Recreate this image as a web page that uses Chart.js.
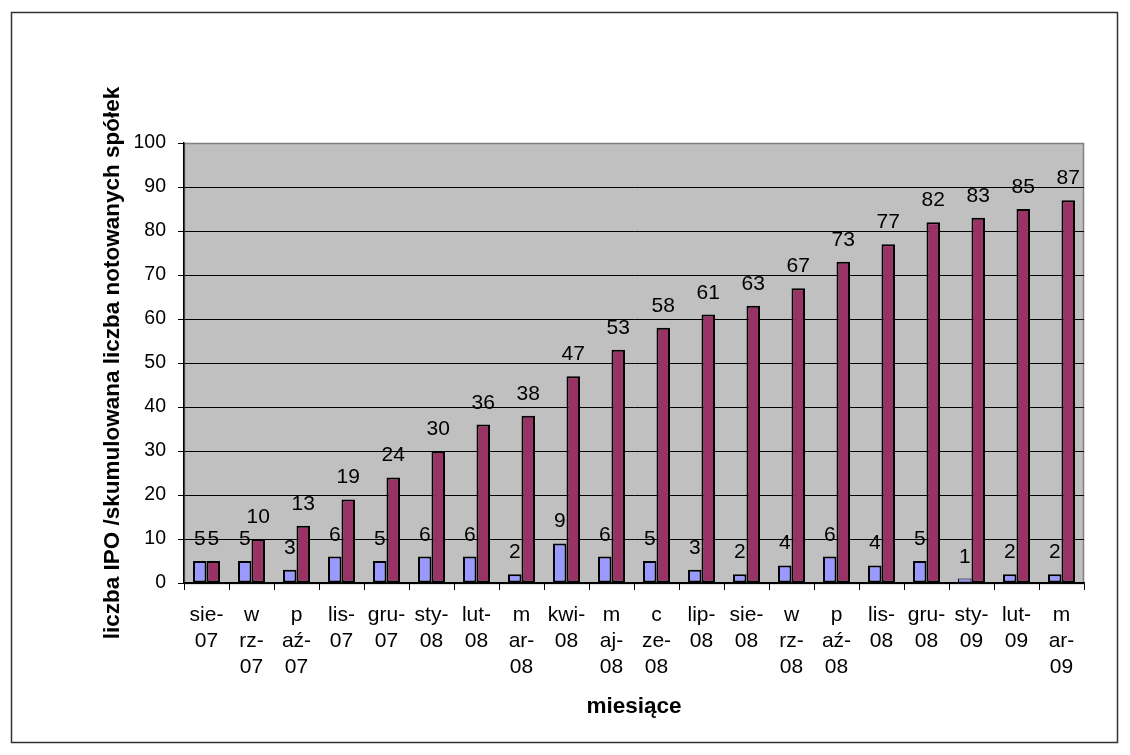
<!DOCTYPE html>
<html>
<head>
<meta charset="utf-8">
<script src="https://cdn.jsdelivr.net/npm/chart.js@4/dist/chart.umd.min.js"></script>
<style>
  html, body { margin: 0; padding: 0; background: #fff; }
  #wykres { display: block; }
</style>
</head>
<body>
<canvas id="wykres" width="1130" height="755"></canvas>
<script>
const miesiace = [
    ['sie-', '07'], ['w', 'rz-', '07'], ['p', 'aź-', '07'], ['lis-', '07'], ['gru-', '07'],
    ['sty-', '08'], ['lut-', '08'], ['m', 'ar-', '08'], ['kwi-', '08'], ['m', 'aj-', '08'],
    ['c', 'ze-', '08'], ['lip-', '08'], ['sie-', '08'], ['w', 'rz-', '08'], ['p', 'aź-', '08'],
    ['lis-', '08'], ['gru-', '08'], ['sty-', '09'], ['lut-', '09'], ['m', 'ar-', '09']
];
const liczbaIPO = [5, 5, 3, 6, 5, 6, 6, 2, 9, 6, 5, 3, 2, 4, 6, 4, 5, 1, 2, 2];
const notowane = [5, 10, 13, 19, 24, 30, 36, 38, 47, 53, 58, 61, 63, 67, 73, 77, 82, 83, 85, 87];
const osY = { min: 0, max: 100, krok: 10 };

Chart.defaults.font.family = '"Liberation Sans", Arial, sans-serif';
Chart.defaults.color = '#000';

// tlo obszaru wykresu + ramka calego wykresu
const tlo = {
    id: 'tlo',
    beforeDraw(chart) {
        const { ctx, chartArea: a } = chart;
        ctx.save();
        ctx.lineWidth = 1.5;
        ctx.strokeStyle = '#333';
        ctx.strokeRect(11.5, 12.5, 1106, 730);
        ctx.fillStyle = '#C0C0C0';
        ctx.fillRect(a.left, a.top, a.right - a.left, a.bottom - a.top);
        ctx.lineWidth = 1.5;
        ctx.strokeStyle = '#808080';
        ctx.strokeRect(a.left + 0.5, a.top + 0.5, a.right - a.left - 1, a.bottom - a.top);
        ctx.restore();
    }
};

// etykiety wartosci nad slupkami
const etykiety = {
    id: 'etykiety',
    afterDatasetsDraw(chart) {
        const ctx = chart.ctx;
        ctx.save();
        ctx.font = '21px "Liberation Sans", Arial';
        ctx.fillStyle = '#000';
        ctx.textAlign = 'center';
        ctx.textBaseline = 'alphabetic';
        chart.data.datasets.forEach((ds, i) => {
            chart.getDatasetMeta(i).data.forEach((bar, j) => {
                ctx.fillText(ds.data[j], bar.x, bar.y - 16);
            });
        });
        ctx.restore();
    }
};

new Chart(document.getElementById('wykres'), {
    type: 'bar',
    data: {
        labels: miesiace,
        datasets: [
            { data: liczbaIPO, backgroundColor: '#9999FF' },
            { data: notowane, backgroundColor: '#993366' }
        ]
    },
    options: {
        responsive: false,
        animation: false,
        events: [],
        layout: { padding: { top: 143, right: 46, left: 0, bottom: 0 } },
        datasets: {
            bar: {
                borderColor: '#000',
                borderWidth: (c) => c.raw <= 1 ? 1 : 2,   // niski slupek: cienka ramka, zeby bylo widac wypelnienie
                borderSkipped: false,
                categoryPercentage: 0.6,
                barPercentage: 1.0
            }
        },
        plugins: { legend: { display: false }, tooltip: { enabled: false } },
        scales: {
            x: {
                afterFit: (s) => { s.height = 172; },
                grid: { drawOnChartArea: false, offset: true, color: '#000', tickLength: 7 },
                border: { color: '#000', width: 1.5 },
                ticks: {
                    autoSkip: false, maxRotation: 0, padding: 12,
                    font: { size: 21, lineHeight: 26 / 21 }
                },
                title: {
                    display: true, text: 'miesiące',
                    font: { size: 22.5, weight: 'bold' },
                    padding: { top: 0, bottom: 34.5 }
                }
            },
            y: {
                min: osY.min, max: osY.max,
                afterFit: (s) => { s.width = 184; },
                grid: {
                    color: (c) => c.tick && c.tick.value === osY.max ? '#808080' : '#000',
                    tickColor: '#000', tickLength: 6
                },
                border: { color: '#000', width: 1.5 },
                ticks: { stepSize: osY.krok, padding: 12, font: { size: 19.5 } },
                title: {
                    display: true, text: 'liczba IPO /skumulowana liczba notowanych spółek',
                    font: { size: 22.5, weight: 'bold' },
                    padding: { top: 99.5, bottom: 0 }
                }
            }
        }
    },
    plugins: [tlo, etykiety]
});
</script>
</body>
</html>
